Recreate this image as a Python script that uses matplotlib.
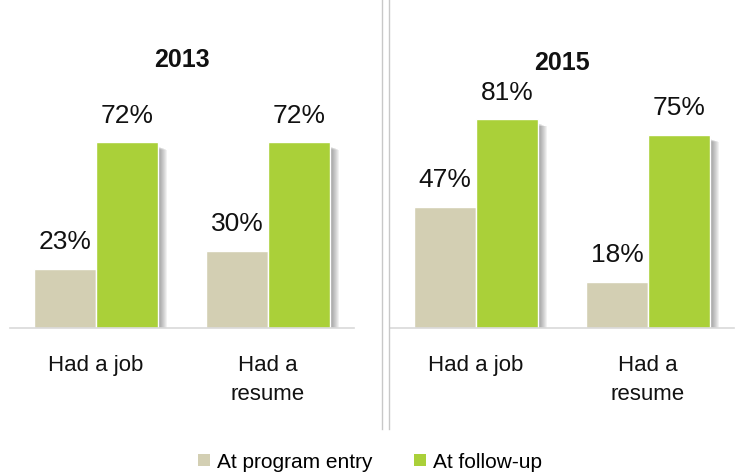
import matplotlib
matplotlib.use('Agg')
import matplotlib.pyplot as plt
from matplotlib.patches import Patch
from matplotlib.lines import Line2D
import numpy as np

plt.rcParams['font.family'] = ['Liberation Sans', 'DejaVu Sans']

years = ['2013', '2015']
categories = ['Had a job', 'Had a\nresume']
at_entry = {'2013': [23, 30], '2015': [47, 18]}
at_followup = {'2013': [72, 72], '2015': [81, 75]}
series_names = ['At program entry', 'At follow-up']

ENTRY_COLOR = '#D3CFB3'
FOLLOW_COLOR = '#AAD039'
LINE_COLOR = '#C8C8C8'

fig = plt.figure(figsize=(7.48, 4.77), dpi=100)
fig.patch.set_facecolor('white')

panel_lefts = [10 / 748, 390 / 748]
width = 0.36
offset = 0.18
px = 1 / 172  # one pixel in x data units

for left, year in zip(panel_lefts, years):
    ax = fig.add_axes([left, 148 / 477, 344 / 748, 258 / 477])
    x = np.arange(len(categories))
    series = [(x - offset, at_entry[year], ENTRY_COLOR),
              (x + offset, at_followup[year], FOLLOW_COLOR)]

    # stacked translucent strips -> shadow that fades out to the right
    for xs, vals, _ in series:
        edge = xs + width / 2 - 2 * px
        for k in range(1, 10):
            w = (2 + k) * px
            ax.bar(edge, np.array(vals) - 1.5 - 0.15 * k, width=w, align='edge',
                   color='#4A4A4A', alpha=0.075, linewidth=0, zorder=1)

    for xs, vals, col in series:
        bars = ax.bar(xs, vals, width=width, color=col, edgecolor='white',
                      linewidth=1.0, zorder=3)
        for b, v in zip(bars, vals):
            ax.annotate(f'{v}%', (b.get_x() + b.get_width() / 2, v),
                        xytext=(0, 11), textcoords='offset points',
                        ha='center', va='bottom', fontsize=19, color='#111111')

    ax.set_xlim(-0.5, 1.5)
    ax.set_ylim(0, 100)
    ax.set_xticks(x)
    ax.set_xticklabels(categories, fontsize=16, linespacing=1.45, color='#111111')
    ax.tick_params(axis='x', length=0, pad=19)
    ax.set_yticks([])
    for s in ['top', 'right', 'left']:
        ax.spines[s].set_visible(False)
    ax.spines['bottom'].set_color('#D9D9D9')
    ax.spines['bottom'].set_linewidth(1.2)
    ax.spines['bottom'].set_zorder(4)
    ax.set_facecolor('none')

    ax.text(0.5, 1.043 if year == '2013' else 1.031, year, transform=ax.transAxes,
            ha='center', va='center', fontsize=18, fontweight='bold', color='#111111')

# double divider between the two panels
for xp in [382, 389]:
    fig.add_artist(Line2D([xp / 748, xp / 748], [1, 47 / 477],
                          transform=fig.transFigure, color=LINE_COLOR, linewidth=1.0))

handles = [Patch(facecolor=ENTRY_COLOR, edgecolor='none'),
           Patch(facecolor=FOLLOW_COLOR, edgecolor='none')]
fig.legend(handles, series_names, loc='center', bbox_to_anchor=(370 / 748, 1 - 463 / 477),
           ncol=2, frameon=False, fontsize=15, handlelength=0.55, handleheight=0.55,
           handletextpad=0.35, columnspacing=2.0)

fig.savefig('out.png', dpi=100, facecolor='white')
